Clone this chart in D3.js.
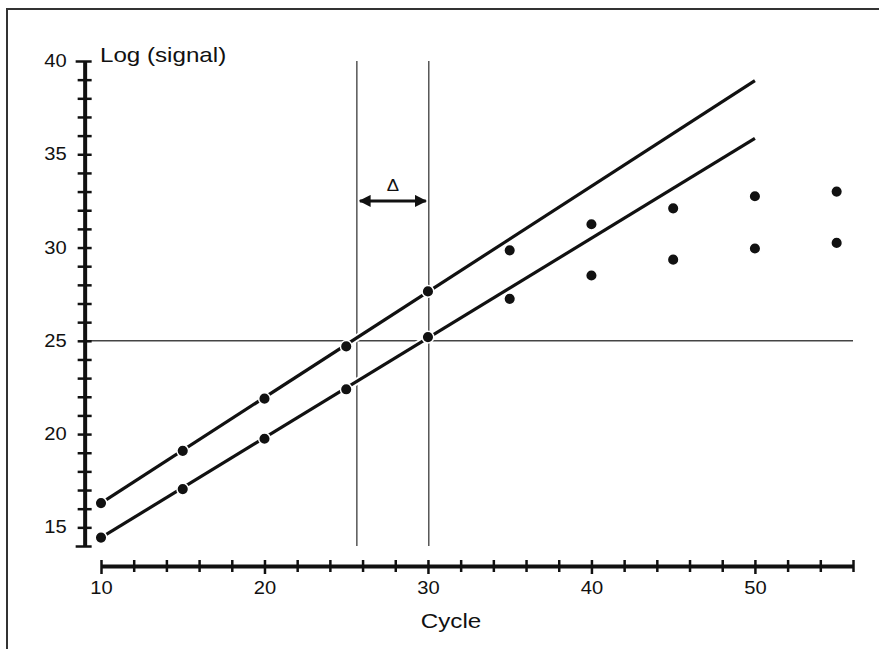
<!DOCTYPE html>
<html>
<head>
<meta charset="utf-8">
<script src="https://cdn.jsdelivr.net/npm/d3@7"></script>
<style>
  body { margin: 0; background: #fff; }
  text { font-family: "Liberation Sans", Arial, sans-serif; fill: #111; }
</style>
</head>
<body>
<div class="chart"></div>
<script>
// ---- data ----
var cycles = [10, 15, 20, 25, 30, 35, 40, 45, 50, 55];
var upperSignal = [16.3, 19.1, 21.9, 24.7, 27.65, 29.85, 31.25, 32.1, 32.75, 33.0];
var lowerSignal = [14.45, 17.05, 19.75, 22.4, 25.2, 27.25, 28.5, 29.35, 29.95, 30.25];

// fitted straight lines (start / end cycle)
var fitCycles = [10, 50];
var upperFit = [16.3, 38.95];
var lowerFit = [14.45, 35.85];

var threshold = 25;
var thresholdSpan = [9, 56];
var ctCycles = [25.65, 30.05];
var deltaLevel = 32.5;

var xLabels = [10, 20, 30, 40, 50];
var xMinor = d3.range(10, 57, 2);
var yLabels = [15, 20, 25, 30, 35, 40];
var yMinor = d3.range(14, 41, 1);

// ---- chart area ----
var svgWidth = 879, svgHeight = 649;

var svg = d3.select(".chart")
  .append("svg")
  .attr("width", svgWidth)
  .attr("height", svgHeight);

// frame around the figure
svg.append("rect")
  .attr("x", 7).attr("y", 9)
  .attr("width", 900).attr("height", 700)
  .attr("fill", "none")
  .attr("stroke", "#333")
  .attr("stroke-width", 2);

var x = d3.scaleLinear().domain([10, 56]).range([101, 853]);
var y = d3.scaleLinear().domain([14, 40]).range([546, 61]);

// ---- reference lines (threshold and Ct lines) ----
svg.append("line")
  .attr("x1", x(thresholdSpan[0])).attr("x2", x(thresholdSpan[1]))
  .attr("y1", y(threshold)).attr("y2", y(threshold))
  .attr("stroke", "#444").attr("stroke-width", 1.5);

svg.selectAll(".ct")
  .data(ctCycles)
  .enter()
  .append("line")
  .attr("class", "ct")
  .attr("x1", d => x(d)).attr("x2", d => x(d))
  .attr("y1", y(14)).attr("y2", y(40))
  .attr("stroke", "#555").attr("stroke-width", 1.5);

// ---- delta arrow ----
var defs = svg.append("defs");
defs.append("marker")
  .attr("id", "arrow")
  .attr("viewBox", "0 0 10 10")
  .attr("refX", 9).attr("refY", 5)
  .attr("markerWidth", 4).attr("markerHeight", 4)
  .attr("markerUnits", "strokeWidth")
  .attr("orient", "auto-start-reverse")
  .append("path")
  .attr("d", "M0,0 L10,5 L0,10 Z")
  .attr("fill", "#111");

svg.append("line")
  .attr("x1", x(ctCycles[0]) + 3).attr("x2", x(ctCycles[1]) - 3)
  .attr("y1", y(deltaLevel)).attr("y2", y(deltaLevel))
  .attr("stroke", "#111").attr("stroke-width", 3)
  .attr("marker-start", "url(#arrow)")
  .attr("marker-end", "url(#arrow)");

svg.append("text")
  .attr("x", x((ctCycles[0] + ctCycles[1]) / 2))
  .attr("y", y(deltaLevel) - 10)
  .attr("text-anchor", "middle")
  .style("font-size", "16px")
  .text("\u0394");

// ---- fitted lines (white halo so they cut the thin lines) ----
function fitData(vals) {
  return fitCycles.map((c, i) => [c, vals[i]]);
}
var line = d3.line().x(d => x(d[0])).y(d => y(d[1]));

[upperFit, lowerFit].forEach(f => {
  svg.append("path")
    .attr("d", line(fitData(f)))
    .attr("stroke", "#fff").attr("stroke-width", 7).attr("fill", "none");
  svg.append("path")
    .attr("d", line(fitData(f)))
    .attr("stroke", "#111").attr("stroke-width", 3.2).attr("fill", "none");
});

// ---- points ----
[upperSignal, lowerSignal].forEach(s => {
  svg.append("g").selectAll("circle")
    .data(cycles.map((c, i) => [c, s[i]]))
    .enter()
    .append("circle")
    .attr("cx", d => x(d[0]))
    .attr("cy", d => y(d[1]))
    .attr("r", 5.8)
    .attr("fill", "#111")
    .attr("stroke", "#fff")
    .attr("stroke-width", 1.5);
});

// ---- axes ----
var leftAxis = d3.axisLeft(y)
  .tickValues(yMinor)
  .tickFormat(d => yLabels.includes(d) ? d : "")
  .tickSizeOuter(0);

var yAxisG = svg.append("g")
  .attr("transform", `translate(${x(9)}, 0)`)
  .call(leftAxis);
yAxisG.select(".domain").attr("stroke", "#111").attr("stroke-width", 4);
yAxisG.selectAll(".tick line")
  .attr("x1", d => (d === 14 || d === 40) ? -9 : -7)
  .attr("x2", 7)
  .attr("stroke", "#111").attr("stroke-width", 2.5);
yAxisG.selectAll(".tick text")
  .attr("x", -18)
  .style("font-size", "17.5px")
  .style("font-family", "'Liberation Sans', Arial, sans-serif")
  .attr("fill", "#111");

var bottomAxis = d3.axisBottom(x)
  .tickValues(xMinor)
  .tickFormat(d => xLabels.includes(d) ? d : "")
  .tickSizeOuter(0);

var xAxisG = svg.append("g")
  .attr("transform", `translate(0, ${y(14) + 20})`)
  .call(bottomAxis);
xAxisG.select(".domain").attr("stroke", "#111").attr("stroke-width", 4);
xAxisG.selectAll(".tick line")
  .attr("y1", -6)
  .attr("y2", d => xLabels.includes(d) ? 8 : 6)
  .attr("stroke", "#111").attr("stroke-width", 2.5);
xAxisG.selectAll(".tick text")
  .attr("y", 16)
  .style("font-size", "17.5px")
  .style("font-family", "'Liberation Sans', Arial, sans-serif")
  .attr("fill", "#111");

// axis titles
svg.append("text")
  .attr("x", 100).attr("y", 62)
  .style("font-size", "21px")
  .text("Log (signal)");

svg.append("text")
  .attr("x", 451).attr("y", 628)
  .attr("text-anchor", "middle")
  .style("font-size", "21px")
  .text("Cycle");

// the source figure is a little stretched sideways, widen all text to match
svg.selectAll("text").each(function () {
  var len = this.getComputedTextLength();
  if (len > 0) {
    d3.select(this)
      .attr("textLength", len * 1.15)
      .attr("lengthAdjust", "spacingAndGlyphs");
  }
});
</script>
</body>
</html>
